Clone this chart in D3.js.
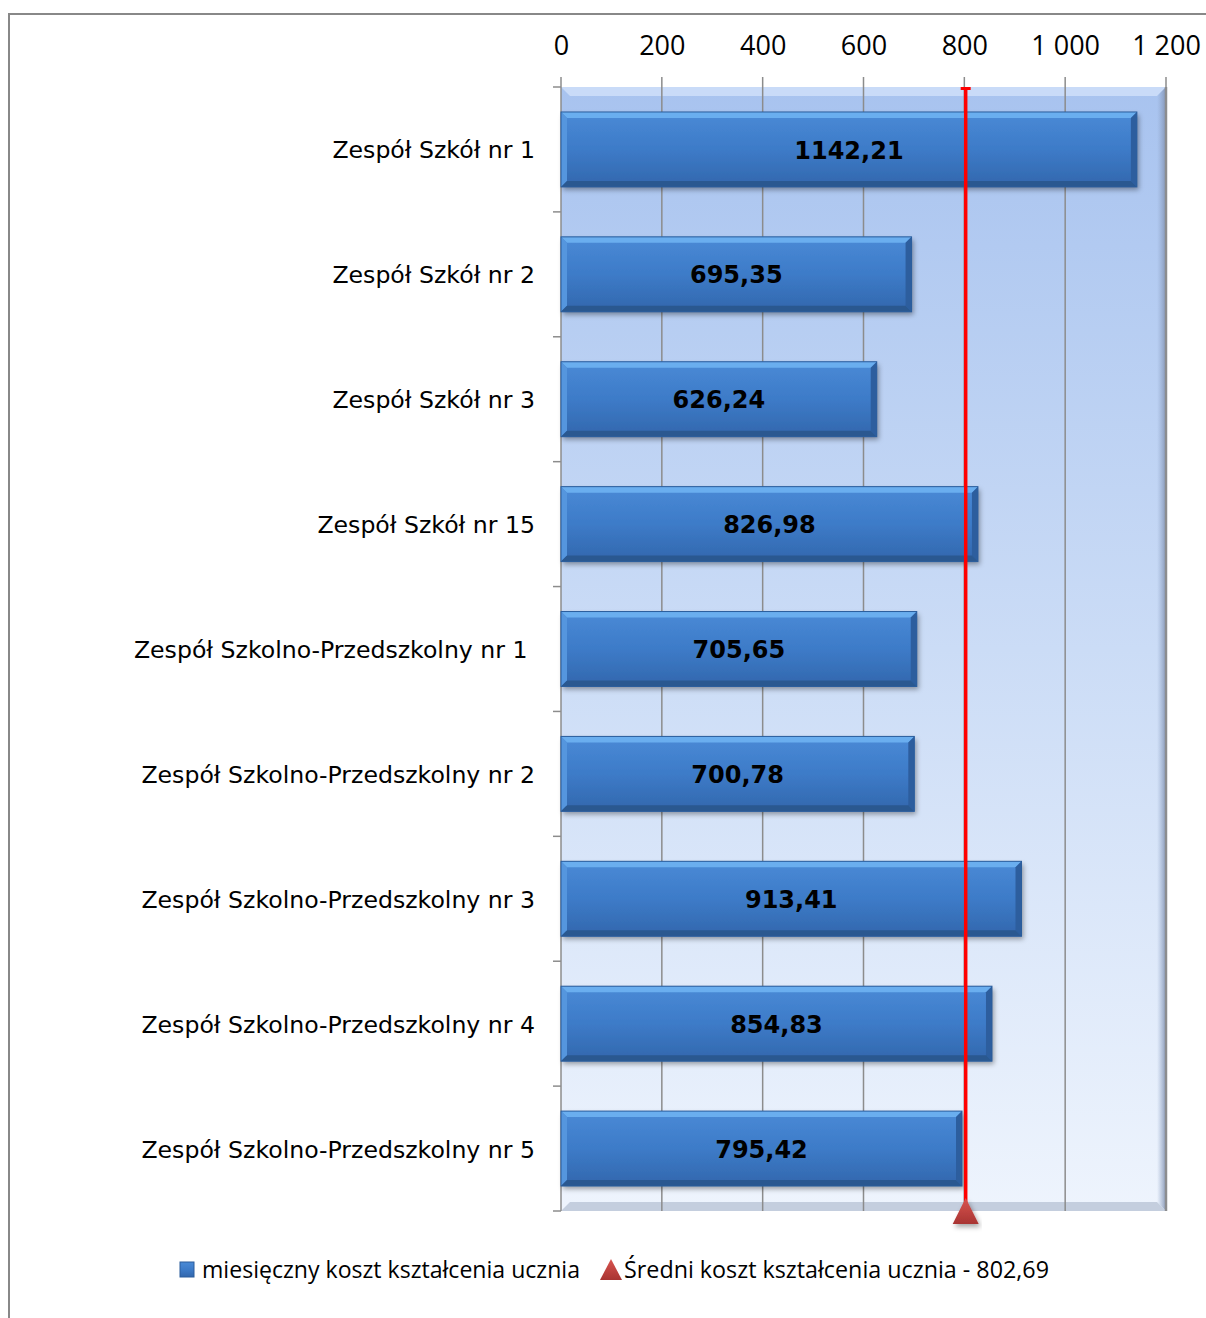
<!DOCTYPE html>
<html><head><meta charset="utf-8">
<script src="https://cdn.jsdelivr.net/npm/d3@7"></script>
<style>body{margin:0;background:#fff}svg{display:block}</style>
</head><body>
<script>
const categories = ["Zespół Szkół nr 1","Zespół Szkół nr 2","Zespół Szkół nr 3","Zespół Szkół nr 15","Zespół Szkolno-Przedszkolny nr 1 ","Zespół Szkolno-Przedszkolny nr 2","Zespół Szkolno-Przedszkolny nr 3","Zespół Szkolno-Przedszkolny nr 4","Zespół Szkolno-Przedszkolny nr 5"];
const values = [1142.21,695.35,626.24,826.98,705.65,700.78,913.41,854.83,795.42];
const meanValue = 802.69;
const tickValues = [0,200,400,600,800,1000,1200];
const seriesName = "miesięczny koszt kształcenia ucznia";
const meanName = "Średni koszt kształcenia ucznia - 802,69";

const W=1206,H=1318;
const svg=d3.select("body").append("svg").attr("width",W).attr("height",H);
const defs=svg.append("defs");
const bg=defs.append("linearGradient").attr("id","bg").attr("x1",0).attr("y1",0).attr("x2",0).attr("y2",1);
bg.append("stop").attr("offset","0").attr("stop-color","#a8c3ef");
bg.append("stop").attr("offset","0.5").attr("stop-color","#cbdcf6");
bg.append("stop").attr("offset","1").attr("stop-color","#eef4fd");
const bar=defs.append("linearGradient").attr("id","bar").attr("x1",0).attr("y1",0).attr("x2",0).attr("y2",1);
bar.append("stop").attr("offset","0").attr("stop-color","#4a8ad6");
bar.append("stop").attr("offset","0.5").attr("stop-color","#3d7bc8");
bar.append("stop").attr("offset","1").attr("stop-color","#3267ad");
const tri=defs.append("linearGradient").attr("id","tri").attr("x1",0).attr("y1",0).attr("x2",0).attr("y2",1);
tri.append("stop").attr("offset","0").attr("stop-color","#d9544f");
tri.append("stop").attr("offset","1").attr("stop-color","#a83432");
const rshade=defs.append("linearGradient").attr("id","rshade").attr("x1",0).attr("y1",0).attr("x2",1).attr("y2",0);
rshade.append("stop").attr("offset","0").attr("stop-color","#8fa4c8").attr("stop-opacity",0);
rshade.append("stop").attr("offset","1").attr("stop-color","#7f8fae").attr("stop-opacity",0.9);
const sh=defs.append("filter").attr("id","sh").attr("x","-5%").attr("y","-20%").attr("width","115%").attr("height","160%");
sh.append("feDropShadow").attr("dx",2).attr("dy",3).attr("stdDeviation",2.5).attr("flood-color","#000").attr("flood-opacity",0.35);

// outer border
svg.append("path").attr("d","M9,1318V14H1206").attr("fill","none").attr("stroke","#888").attr("stroke-width",2);

const x0=561,x1=1166,yTop=87,yBot=1211;
const x=d3.scaleLinear().domain([0,1200]).range([x0,x1]);
const y=d3.scaleBand().domain(categories).range([yTop,yBot]).paddingInner(0.4).paddingOuter(0.2);

// plot background
svg.append("rect").attr("x",x0).attr("y",yTop).attr("width",x1-x0).attr("height",yBot-yTop).attr("fill","url(#bg)");
svg.append("polygon").attr("points",`${x0},${yTop} ${x1},${yTop} ${x1-9},${yTop+9} ${x0+9},${yTop+9}`).attr("fill","#e4efff").attr("opacity",0.55);
svg.append("polygon").attr("points",`${x1},${yTop} ${x1},${yBot} ${x1-9},${yBot-9} ${x1-9},${yTop+9}`).attr("fill","url(#rshade)");
svg.append("polygon").attr("points",`${x0},${yBot} ${x1},${yBot} ${x1-9},${yBot-9} ${x0+9},${yBot-9}`).attr("fill","#b9c4d6").attr("opacity",0.8);
svg.append("line").attr("x1",x1).attr("x2",x1).attr("y1",yTop).attr("y2",yBot).attr("stroke","#8a8f99").attr("stroke-width",2.5);

// gridlines
svg.append("g").selectAll("line").data(tickValues.slice(1)).join("line")
 .attr("x1",d=>x(d)).attr("x2",d=>x(d)).attr("y1",yTop-10).attr("y2",yBot)
 .attr("stroke","#8c8c8c").attr("stroke-width",1.5);

// top axis
const ax=svg.append("g").attr("transform",`translate(0,${yTop-10})`)
 .call(d3.axisTop(x).tickValues(tickValues).tickSize(0).tickPadding(22)
   .tickFormat(d=>d3.format(",")(d).replace(/,/g," ")));
ax.select(".domain").remove();
ax.selectAll("text").attr("font-family","'Liberation Sans Narrow','Open Sans',sans-serif").attr("font-size",27).attr("fill","#000");

// left axis
svg.append("line").attr("x1",x0).attr("x2",x0).attr("y1",yTop-10).attr("y2",yBot).attr("stroke","#8c8c8c").attr("stroke-width",1.5);
const bounds=d3.range(categories.length+1).map(i=>yTop+i*(yBot-yTop)/categories.length);
svg.append("g").selectAll("line").data(bounds).join("line")
 .attr("x1",x0-8).attr("x2",x0).attr("y1",d=>d).attr("y2",d=>d).attr("stroke","#8c8c8c").attr("stroke-width",1.5);

// category labels
svg.append("g").selectAll("text").data(categories).join("text")
 .attr("x",535).attr("y",d=>y(d)+y.bandwidth()/2).attr("dy","0.38em").attr("text-anchor","end")
 .attr("font-family","'DejaVu Sans',Verdana,sans-serif").attr("font-size",23.6).attr("fill","#000")
 .attr("xml:space","preserve").text(d=>d);

// bars
const bg2=svg.append("g");
categories.forEach((c,i)=>{
  const v=values[i], bx=x0, by=y(c), bw=x(v)-x0, bh=y.bandwidth();
  const g=bg2.append("g");
  g.append("rect").attr("x",bx).attr("y",by).attr("width",bw).attr("height",bh).attr("fill","url(#bar)").attr("filter","url(#sh)");
  const b=6;
  g.append("polygon").attr("points",`${bx},${by} ${bx+bw},${by} ${bx+bw-b},${by+b} ${bx+b},${by+b}`).attr("fill","#6aaeef");
  g.append("polygon").attr("points",`${bx},${by} ${bx+b},${by+b} ${bx+b},${by+bh-b} ${bx},${by+bh}`).attr("fill","#5596de");
  g.append("polygon").attr("points",`${bx+bw},${by} ${bx+bw},${by+bh} ${bx+bw-b},${by+bh-b} ${bx+bw-b},${by+b}`).attr("fill","#2d5e9e");
  g.append("polygon").attr("points",`${bx},${by+bh} ${bx+bw},${by+bh} ${bx+bw-b},${by+bh-b} ${bx+b},${by+bh-b}`).attr("fill","#2a5890");
  g.append("rect").attr("x",bx).attr("y",by).attr("width",bw).attr("height",bh).attr("fill","none").attr("stroke","#2b5d9c").attr("stroke-width",1);
  g.append("text").attr("x",bx+bw/2).attr("y",by+bh/2).attr("dy","0.38em").attr("text-anchor","middle")
   .attr("font-family","'DejaVu Sans',Verdana,sans-serif").attr("font-weight","bold").attr("font-size",24).attr("fill","#000")
   .text(d3.format(".2f")(v).replace(".",","));
});

// mean line
const mx=x(meanValue);
svg.append("line").attr("x1",mx).attr("x2",mx).attr("y1",yTop+1).attr("y2",yBot).attr("stroke","#ff0000").attr("stroke-width",3.5);
svg.append("line").attr("x1",mx-5).attr("x2",mx+5).attr("y1",yTop+1.5).attr("y2",yTop+1.5).attr("stroke","#ff0000").attr("stroke-width",3);
svg.append("path").attr("d",`M${mx},${yBot-13}L${mx+13},${yBot+13}L${mx-13},${yBot+13}Z`).attr("fill","url(#tri)").attr("filter","url(#sh)");

// legend
const lg=svg.append("g").attr("font-family","'Open Sans',sans-serif").attr("font-size",23).attr("fill","#000");
lg.append("rect").attr("x",180).attr("y",1262).attr("width",14).attr("height",15).attr("fill","url(#bar)").attr("stroke","#2b5d9c");
lg.append("text").attr("x",202).attr("y",1278).attr("textLength",378).attr("lengthAdjust","spacingAndGlyphs").text(seriesName);
lg.append("path").attr("d","M611,1259L622,1280L600,1280Z").attr("fill","url(#tri)");
lg.append("text").attr("x",624).attr("y",1278).attr("textLength",425).attr("lengthAdjust","spacingAndGlyphs").text(meanName);
</script>
</body></html>
